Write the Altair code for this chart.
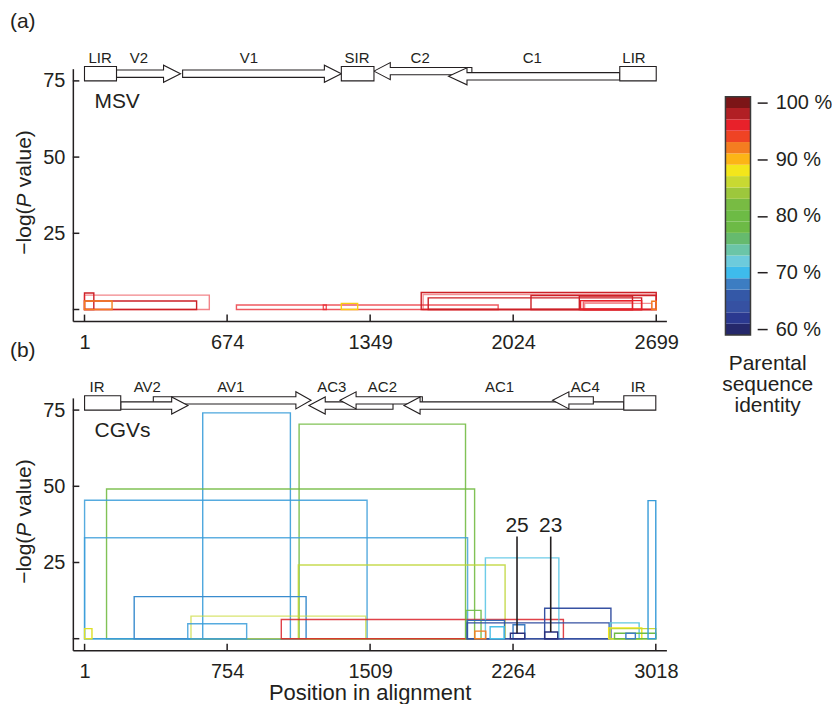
import altair as alt
import pandas as pd

FONT = "Liberation Sans"
INK = "#231f20"

# ---------------- colour scale: parental sequence identity (%) ----------------
ident_stops = [60, 62, 64, 66, 68, 70, 72, 74, 76, 78, 80,
               82, 84, 86, 88, 90, 92, 94, 96, 98, 100]
ident_colors = ["#25286b", "#2b3990", "#3651a2", "#3458a7", "#3c7dc2", "#3ebbec",
                "#6dcbdc", "#6bc5a7", "#66ba6e", "#6dba46", "#6dbb45", "#78bb43",
                "#9dc73c", "#c8d932", "#f3e61b", "#fcb516", "#f47d20", "#ef4324",
                "#e8212a", "#b11f24", "#7c1517"]

# ---------------- (a) MSV recombination events ----------------
msv_start = [1, 1, 1, 1, 718, 1128, 1213, 1590, 1599, 1623, 2108, 2336, 2342, 2355, 2361, 2678]
msv_end   = [45, 590, 530, 131, 1142, 1953, 1290, 2699, 2699, 2630, 2699, 2587, 2630, 2587, 2678, 2699]
msv_logp  = [5.4, 4.7, 2.8, 2.8, 1.5, 1.5, 2.0, 5.6, 4.9, 3.8, 4.6, 4.4, 2.9, 2.5, 2.0, 2.7]
msv_ident = [97, 96, 97, 92, 96, 96, 89, 97, 96, 97, 97, 97, 96, 96, 96, 92]
msv_alpha = [1, 0.55, 1, 1, 0.75, 0.75, 1, 1, 0.5, 1, 1, 1, 1, 0.7, 0.5, 1]

# ---------------- (b) CGV recombination events ----------------
cgv_start = [625, 1134, 117, 1, 1, 1130, 263, 563, 546, 1040, 1, 2118, 2016, 2022,
             2022, 2431, 2062, 2143, 2264, 2250, 2431, 2777, 2769, 2777, 2800, 2860, 2977]
cgv_end   = [1088, 2013, 2061, 1493, 2024, 2222, 1171, 1486, 857, 2530, 40, 2506, 2095, 2219,
             2772, 2781, 2120, 2217, 2326, 2326, 2500, 2930, 2944, 3018, 3018, 2910, 3018]
cgv_logp  = [74.1, 70.4, 49.1, 45.4, 33.1, 24.2, 13.8, 7.4, 4.9, 6.3, 3.3, 26.5, 9.3, 6.0,
             5.2, 10.0, 2.5, 3.9, 4.6, 1.8, 2.2, 5.2, 3.5, 3.3, 1.8, 1.8, 45.3]
cgv_ident = [69, 81, 81, 69, 69, 85.5, 68.5, 86, 69, 96.5, 87, 71, 80, 67,
             64, 64, 92, 70.5, 68, 61, 61, 71.5, 88, 86, 80, 68, 69]
cgv_alpha = [0.9, 0.9, 0.9, 0.85, 0.8, 0.85, 1, 0.7, 0.85, 0.85, 1, 0.85, 0.9, 1,
             1, 1, 1, 1, 1, 1, 1, 1, 1, 1, 1, 1, 1]

# annotated events in (b)
ann_label = ["25", "23"]
ann_x     = [2285, 2463]
ann_top   = [1.8, 2.2]

# ---------------- genome maps ----------------
msv_box_name  = ["LIR", "SIR", "LIR2"]
msv_box_start = [1, 1213, 2527]
msv_box_end   = [152, 1367, 2699]
msv_arrow_name = ["V2", "V1", "C2", "C1"]
msv_arrow_tail = [152, 464, 1829, 2527]
msv_arrow_base = [374, 1133, 1444, 1806]
msv_arrow_tip  = [454, 1213, 1367, 1719]
msv_arrow_lvl  = ["mid", "mid", "up", "low"]
msv_gene_label = ["LIR", "V2", "V1", "SIR", "C2", "C1", "LIR"]
msv_gene_x     = [75, 258, 777, 1287, 1585, 2114, 2594]

cgv_box_name  = ["IR", "IR2"]
cgv_box_start = [1, 2849]
cgv_box_end   = [192, 3018]
cgv_arrow_name = ["AV1", "AV2", "AC3", "AC2", "AC1", "AC4"]
cgv_arrow_tail = [364, 192, 1630, 1785, 2849, 2688]
cgv_arrow_base = [1117, 461, 1272, 1435, 1773, 2559]
cgv_arrow_tip  = [1197, 547, 1186, 1350, 1688, 2473]
cgv_arrow_lvl  = ["up", "low", "low", "up", "low", "up"]
cgv_gene_label = ["IR", "AV2", "AV1", "AC3", "AC2", "AC1", "AC4", "IR"]
cgv_gene_x     = [67, 332, 773, 1307, 1574, 2193, 2645, 2925]

msv_ticks = [1, 674, 1349, 2024, 2699]
cgv_ticks = [1, 754, 1509, 2264, 3018]
y_ticks = [0, 25, 50, 75]
cbar_ticks = [60, 70, 80, 90, 100]

# y-axis title pieces (the P is italic); word gap before "value)" added explicitly
ytitle_parts = ["\u2212log(", "P", "value)"]
ytitle_style = ["normal", "italic", "normal"]
ytitle_gap_em = [0.0, 0.0, 0.30]

# ---------------- geometry / style constants ----------------
W, H = 595, 253
Y_DOM = [-3.8, 79.0]
MAP_LO, MAP_HI = 75.0, 79.7
LABEL_Y = 82.6
LEVELS = {"mid": 77.35, "up": 78.2, "low": 76.5}
BODY, HEAD = 2.4, 5.6
TITLE_FS = 21
EM = {"\u2212": 0.584, "l": 0.222, "o": 0.556, "g": 0.556, "(": 0.333, ")": 0.333,
      "P": 0.667, "v": 0.5, "a": 0.556, "u": 0.556, "e": 0.556}


def arrow_frame(name, tail, base, tip, lvl):
    """outline points of one gene arrow, in ascending x order (area path order)"""
    c = LEVELS[lvl]
    bl, bu = c - BODY / 2, c + BODY / 2
    hl, hu = c - HEAD / 2, c + HEAD / 2
    pts = [(tail, bl, bu), (base, bl, bu), (base, hl, hu), (tip, c, c)]
    if tip < tail:
        pts = pts[::-1]
    return pd.DataFrame([{"name": name, "x": x, "y": y, "y2": y2} for x, y, y2 in pts])


def ytitle_layers():
    widths = [sum(EM[ch] for ch in s) * TITLE_FS for s in ytitle_parts]
    gaps = [g * TITLE_FS for g in ytitle_gap_em]
    total = sum(widths) + sum(gaps)
    start = 124 + total / 2          # rotated text reads upward from here
    out = []
    for s, st, w, g in zip(ytitle_parts, ytitle_style, widths, gaps):
        start -= g
        out.append(alt.Chart(pd.DataFrame({"t": [s]})).mark_text(
            font=FONT, fontSize=TITLE_FS, fontStyle=st, color=INK, angle=270,
            align="left", baseline="middle").encode(
            x=alt.value(-48), y=alt.value(start), text="t:N"))
        start -= w
    return out


def panel(ev_df, xdom, xticks, box_df, arrows, gene_df,
          vname, vname_x, tag, xtitle=None, ann_df=None):
    xs = alt.Scale(domain=xdom, nice=False, zero=False)
    ys = alt.Scale(domain=Y_DOM, nice=False, zero=False)
    xaxis = alt.Axis(values=xticks, format="d", ticks=False, tickSize=0, grid=False,
                     labelPadding=11, labelFontSize=20, labelFlush=False,
                     title=xtitle, titlePadding=1, titleFontSize=22)
    yaxis = alt.Axis(values=y_ticks, format="d", ticks=False, tickSize=0, grid=False,
                     labelPadding=8, labelFontSize=20,
                     labelExpr="datum.value == 0 ? '' : datum.label", title=None)

    def X(f):
        return alt.X(f, scale=xs, axis=xaxis)

    def Y(f):
        return alt.Y(f, scale=ys, axis=yaxis)

    ev = alt.Chart(ev_df).mark_rect(filled=False, strokeWidth=1.4).encode(
        x=X("start:Q"), x2="end:Q",
        y=Y("logp:Q"), y2="base:Q",
        stroke=alt.Stroke("ident:Q", legend=None,
                          scale=alt.Scale(domain=ident_stops, range=ident_colors)),
        strokeOpacity=alt.StrokeOpacity("alpha:Q", scale=None),
    )

    layers = [ev]
    for adf in arrows:
        layers.append(alt.Chart(adf).mark_area(
            fill="white", stroke=INK, strokeWidth=1.1, interpolate="linear",
            strokeJoin="miter").encode(x=X("x:Q"), y=Y("y:Q"), y2="y2:Q"))

    layers.append(alt.Chart(box_df).mark_rect(fill="white", stroke=INK, strokeWidth=1.1).encode(
        x=X("start:Q"), x2="end:Q", y=Y("lo:Q"), y2="hi:Q"))

    layers.append(alt.Chart(gene_df).mark_text(font=FONT, fontSize=15, color=INK,
                                               baseline="middle", align="center").encode(
        x=X("x:Q"), y=Y("y:Q"), text="t:N"))

    layers.append(alt.Chart(pd.DataFrame({"x": [vname_x], "y": [68.0], "t": [vname]})).mark_text(
        font=FONT, fontSize=21, color=INK, align="left", baseline="middle").encode(
        x=X("x:Q"), y=Y("y:Q"), text="t:N"))

    layers.append(alt.Chart(pd.DataFrame({"v": xticks})).mark_rule(color=INK, strokeWidth=1.5).encode(
        x=X("v:Q"), y=alt.value(H), y2=alt.value(H - 6.5)))
    layers.append(alt.Chart(pd.DataFrame({"v": y_ticks})).mark_rule(color=INK, strokeWidth=1.5).encode(
        y=Y("v:Q"), x=alt.value(0), x2=alt.value(6.5)))

    if ann_df is not None:
        layers.append(alt.Chart(ann_df).mark_rule(color=INK, strokeWidth=1.6).encode(
            x=X("x:Q"), y=Y("y:Q"), y2="top:Q"))
        layers.append(alt.Chart(ann_df).mark_text(font=FONT, fontSize=21, color=INK,
                                                  baseline="middle", align="center").encode(
            x=X("x:Q"), y=Y("ty:Q"), text="t:N"))

    layers += ytitle_layers()

    layers.append(alt.Chart(pd.DataFrame({"t": [tag]})).mark_text(
        font=FONT, fontSize=21, color=INK, align="left", baseline="middle").encode(
        x=alt.value(-63), y=alt.value(-47), text="t:N"))

    return alt.layer(*layers).properties(width=W, height=H)


# ---------------- data frames ----------------
msv_df = pd.DataFrame({"start": msv_start, "end": msv_end, "logp": msv_logp,
                       "ident": msv_ident, "alpha": msv_alpha})
msv_df["base"] = 0.0
cgv_df = pd.DataFrame({"start": cgv_start, "end": cgv_end, "logp": cgv_logp,
                       "ident": cgv_ident, "alpha": cgv_alpha})
cgv_df["base"] = 0.0

msv_boxes = pd.DataFrame({"name": msv_box_name, "start": msv_box_start, "end": msv_box_end})
msv_boxes["lo"], msv_boxes["hi"] = MAP_LO, MAP_HI
cgv_boxes = pd.DataFrame({"name": cgv_box_name, "start": cgv_box_start, "end": cgv_box_end})
cgv_boxes["lo"], cgv_boxes["hi"] = MAP_LO, MAP_HI

msv_arrows = [arrow_frame(*a) for a in zip(msv_arrow_name, msv_arrow_tail, msv_arrow_base,
                                           msv_arrow_tip, msv_arrow_lvl)]
cgv_arrows = [arrow_frame(*a) for a in zip(cgv_arrow_name, cgv_arrow_tail, cgv_arrow_base,
                                           cgv_arrow_tip, cgv_arrow_lvl)]

msv_genes = pd.DataFrame({"t": msv_gene_label, "x": msv_gene_x})
msv_genes["y"] = LABEL_Y
cgv_genes = pd.DataFrame({"t": cgv_gene_label, "x": cgv_gene_x})
cgv_genes["y"] = LABEL_Y

ann_df = pd.DataFrame({"t": ann_label, "x": ann_x, "top": ann_top})
ann_df["y"] = 33.5
ann_df["ty"] = 37.1

pa = panel(msv_df, [-54, 2747], msv_ticks, msv_boxes, msv_arrows,
           msv_genes, "MSV", 48, "(a)")
pb = panel(cgv_df, [-61, 3074], cgv_ticks, cgv_boxes, cgv_arrows,
           cgv_genes, "CGVs", 54, "(b)",
           xtitle="Position in alignment", ann_df=ann_df)

# ---------------- colour bar ----------------
cb_df = pd.DataFrame({"v": ident_stops})
cb_df["lo"] = cb_df["v"] - 1
cb_df["hi"] = cb_df["v"] + 1
cb_y = alt.Scale(domain=[59, 101], range=[267, 28], nice=False, zero=False)
cb_axis = alt.Axis(orient="right", values=cbar_ticks, offset=91, domain=False,
                   ticks=True, tickSize=10, tickWidth=1.5, tickColor=INK,
                   labelPadding=8, labelFontSize=20, grid=False,
                   labelExpr="datum.value + ' %'",
                   title=["Parental", "sequence", "identity"],
                   titleAngle=0, titleAlign="center", titleBaseline="top",
                   titleX=10, titleY=285, titleLineHeight=21, titleFontSize=21)
cb_left, cb_right = 654.2, 679.3
stripes = alt.Chart(cb_df).mark_rect().encode(
    x=alt.value(cb_left), x2=alt.value(cb_right),
    y=alt.Y("lo:Q", scale=cb_y, axis=cb_axis), y2="hi:Q",
    fill=alt.Fill("v:Q", legend=None,
                  scale=alt.Scale(domain=ident_stops, range=ident_colors)),
)
border = alt.Chart(pd.DataFrame({"lo": [59], "hi": [101]})).mark_rect(
    filled=False, stroke="#3a3a3a", strokeWidth=1.5).encode(
    x=alt.value(cb_left), x2=alt.value(cb_right),
    y=alt.Y("lo:Q", scale=cb_y, axis=cb_axis), y2="hi:Q")
cbar = alt.layer(stripes, border)

pa_full = alt.layer(pa, cbar).resolve_scale(y="independent", fill="independent",
                                             stroke="independent")

chart = alt.vconcat(pa_full, pb, spacing=77, bounds="flush").configure_view(
    stroke=None
).configure_axis(
    domainColor=INK, domainWidth=1.5, labelColor=INK, titleColor=INK,
    labelFont=FONT, titleFont=FONT, titleFontWeight="normal", grid=False
).properties(
    padding={"left": 2, "top": 2, "right": 0, "bottom": 0},
    background="white"
)

chart.save("out.html", embed_options={"renderer": "svg", "actions": False})
